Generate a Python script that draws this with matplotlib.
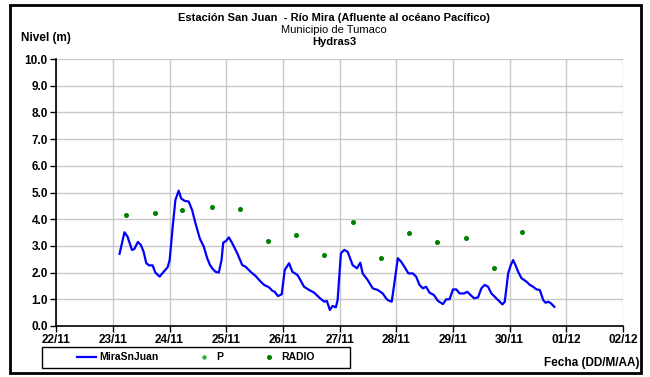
import matplotlib
matplotlib.use("Agg")
import matplotlib.pyplot as plt
import matplotlib.dates as mdates
from matplotlib.patches import Rectangle
from matplotlib.lines import Line2D
import pandas as pd

# level series, time given as days after 22/11 00:00
level_days = [1.117, 1.205, 1.258, 1.336, 1.377, 1.442, 1.495, 1.542, 1.589, 1.642,
              1.701, 1.749, 1.825, 1.896, 1.966, 2.002, 2.050, 2.103, 2.161, 2.204,
              2.262, 2.338, 2.398, 2.457, 2.533, 2.604, 2.664, 2.710, 2.752, 2.811,
              2.869, 2.917, 2.947, 3.000, 3.046, 3.106, 3.195, 3.283, 3.342, 3.430,
              3.519, 3.595, 3.666, 3.754, 3.814, 3.855, 3.913, 3.979, 4.032, 4.108,
              4.168, 4.257, 4.300, 4.373, 4.462, 4.550, 4.639, 4.727, 4.775, 4.828,
              4.876, 4.934, 4.965, 5.023, 5.081, 5.142, 5.230, 5.306, 5.365, 5.407,
              5.496, 5.584, 5.673, 5.761, 5.819, 5.850, 5.920, 5.966, 6.027, 6.085,
              6.143, 6.214, 6.292, 6.350, 6.409, 6.469, 6.527, 6.586, 6.664, 6.735,
              6.823, 6.881, 6.940, 7.000, 7.058, 7.117, 7.195, 7.253, 7.311, 7.372,
              7.442, 7.501, 7.559, 7.619, 7.678, 7.749, 7.825, 7.873, 7.914, 7.974,
              8.020, 8.062, 8.103, 8.150, 8.209, 8.297, 8.356, 8.414, 8.474, 8.532,
              8.593, 8.634, 8.681, 8.728, 8.788]
level_m = [2.70, 3.51, 3.35, 2.85, 2.88, 3.15, 3.03, 2.78, 2.35, 2.27,
           2.27, 2.00, 1.85, 2.03, 2.20, 2.47, 3.60, 4.72, 5.07, 4.78,
           4.69, 4.66, 4.34, 3.85, 3.28, 2.97, 2.54, 2.30, 2.16, 2.03,
           2.00, 2.47, 3.12, 3.19, 3.32, 3.10, 2.72, 2.28, 2.22, 2.03,
           1.87, 1.69, 1.54, 1.45, 1.32, 1.28, 1.12, 1.19, 2.10, 2.35,
           2.03, 1.91, 1.75, 1.47, 1.35, 1.25, 1.07, 0.91, 0.94, 0.60,
           0.75, 0.70, 0.97, 2.72, 2.85, 2.78, 2.28, 2.16, 2.37, 1.97,
           1.72, 1.41, 1.35, 1.22, 1.04, 0.97, 0.91, 1.60, 2.54, 2.41,
           2.22, 1.97, 1.97, 1.85, 1.54, 1.41, 1.47, 1.25, 1.16, 0.94,
           0.82, 1.00, 1.00, 1.37, 1.37, 1.22, 1.22, 1.28, 1.16, 1.04,
           1.07, 1.41, 1.54, 1.47, 1.22, 1.07, 0.91, 0.81, 0.91, 1.97,
           2.28, 2.47, 2.28, 2.03, 1.79, 1.66, 1.54, 1.47, 1.37, 1.35,
           0.97, 0.87, 0.91, 0.85, 0.72]

# radio reports
radio_days = [1.235, 1.736, 2.221, 2.740, 3.241, 3.731, 4.239, 4.727,
              5.235, 5.726, 6.232, 6.722, 7.230, 7.731, 8.226]
radio_m = [4.16, 4.24, 4.34, 4.47, 4.39, 3.17, 3.42, 2.65,
           3.88, 2.55, 3.48, 3.15, 3.30, 2.16, 3.53]

p_days = []
p_m = []

y_ticks = [0, 1, 2, 3, 4, 5, 6, 7, 8, 9, 10]

start = pd.Timestamp("2012-11-22")
to_time = lambda d: start + pd.to_timedelta(d, unit="D")

plt.rcParams['font.family'] = ['Liberation Sans', 'DejaVu Sans']

W, H = 650, 377
fig = plt.figure(figsize=(W / 100, H / 100), dpi=100)
ax = fig.add_axes([56.2 / W, 1 - 326 / H, (623 - 56.2) / W, (326 - 59) / H])

ax.plot(to_time(pd.Series(level_days)), level_m, color="#0000ff", lw=1.6,
        label="MiraSnJuan", zorder=3)
ax.plot(to_time(pd.Series(radio_days)), radio_m, ls="none", marker="o", ms=2.6,
        color="#008000", label="RADIO", zorder=4)

ax.set_xlim(start, start + pd.Timedelta(days=10))
ax.set_ylim(0, 10)
ax.set_yticks(y_ticks)
ax.yaxis.set_major_formatter(matplotlib.ticker.FormatStrFormatter("%.1f"))
ax.xaxis.set_major_locator(mdates.DayLocator())
ax.xaxis.set_major_formatter(mdates.DateFormatter("%d/%m"))

ax.grid(True, color="#c8c8c8", lw=1.0)
ax.set_axisbelow(True)
for s in ["top", "right"]:
    ax.spines[s].set_visible(False)
for s in ["left", "bottom"]:
    ax.spines[s].set_linewidth(1.2)
ax.tick_params(axis="both", direction="out", length=4, width=1, labelsize=8.5,
               pad=2)
for lbl in ax.get_xticklabels() + ax.get_yticklabels():
    lbl.set_fontweight("bold")

# titles
fig.text(334 / W, 1 - 18 / H, "Estación San Juan  - Río Mira (Afluente al océano Pacífico)",
         ha="center", va="center", fontsize=8, fontweight="bold")
fig.text(334 / W, 1 - 30 / H, "Municipio de Tumaco", ha="center", va="center",
         fontsize=8)
fig.text(334 / W, 1 - 42 / H, "Hydras3", ha="center", va="center",
         fontsize=8, fontweight="bold")
fig.text(21 / W, 1 - 38 / H, "Nivel (m)", ha="left", va="center",
         fontsize=8.5, fontweight="bold")
fig.text(640 / W, 1 - 363 / H, "Fecha (DD/M/AA)", ha="right", va="center",
         fontsize=8.5, fontweight="bold")

# legend with its own box
fig.patches.append(Rectangle((42 / W, 1 - 368 / H), 308 / W, 21 / H,
                             transform=fig.transFigure, fill=False,
                             edgecolor="black", lw=1.0))
handles = [Line2D([], [], color="#0000ff", lw=1.6),
           Line2D([], [], ls="none", marker="o", ms=2.2, color="#33b033"),
           Line2D([], [], ls="none", marker="o", ms=2.6, color="#008000")]
leg = fig.legend(handles, ["MiraSnJuan", "P", "RADIO"], ncol=3, frameon=False,
                 loc="center", bbox_to_anchor=(196 / W, 1 - 357.5 / H),
                 prop={"weight": "bold", "size": 7.5}, handlelength=1.8,
                 handletextpad=0.3, columnspacing=3.5)

# outer frame
fig.patches.append(Rectangle((10 / W, 1 - 373 / H), 631 / W, 368 / H,
                             transform=fig.transFigure, fill=False,
                             edgecolor="black", lw=2.0))

fig.savefig("out.png", dpi=100)
